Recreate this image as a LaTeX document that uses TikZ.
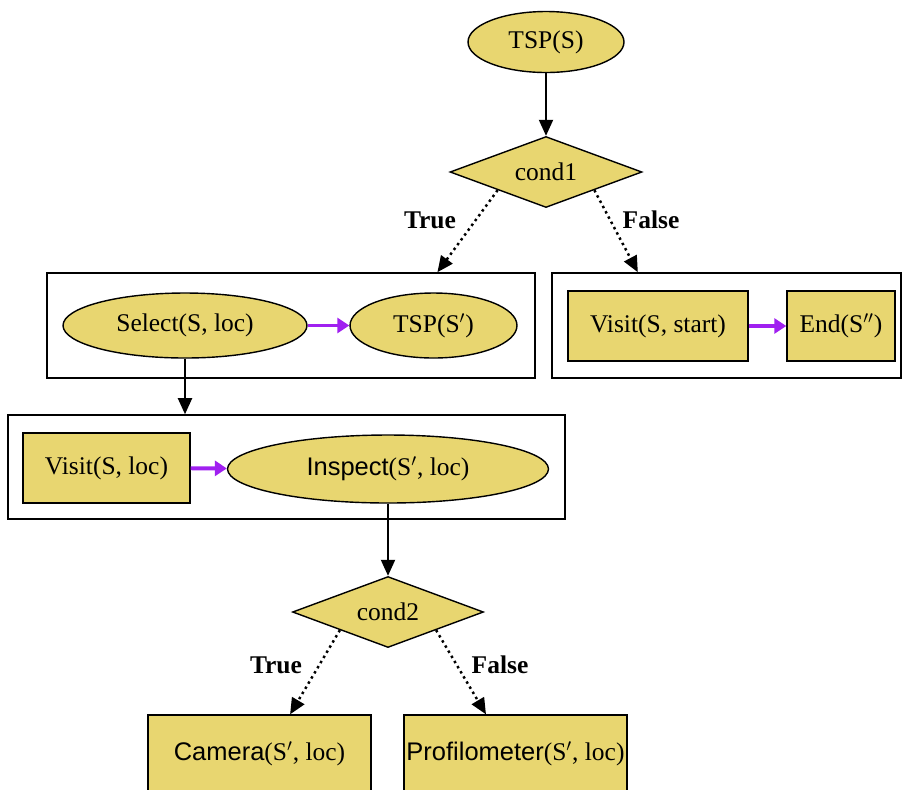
\documentclass[tikz,border=0pt]{standalone}
\usepackage{fontspec}
\setmainfont{Liberation Serif}
\setsansfont{Liberation Sans}
\usetikzlibrary{shapes.geometric,arrows.meta}
\definecolor{gold}{RGB}{232,214,112}
\definecolor{purp}{RGB}{160,32,240}
\tikzset{
  every node/.style={font=\fontsize{14.5}{17}\selectfont},
  oval/.style={ellipse,draw,fill=gold,inner sep=0pt,line width=0.8pt},
  blk/.style={rectangle,draw,fill=gold,inner sep=0pt,line width=0.8pt},
  cond/.style={diamond,draw,fill=gold,inner sep=0pt,aspect=2.7,line width=0.8pt},
  group/.style={rectangle,draw,line width=0.9pt},
  flow/.style={line width=1.1pt,-{Triangle[length=3.2mm,width=2.8mm]}},
  branch/.style={line width=1.4pt,dotted,-{Triangle[length=3.2mm,width=2.8mm]}},
  seq/.style={purp,line width=2.2pt,-{Triangle[length=2.4mm,width=3mm]}},
  lbl/.style={font=\fontsize{14.5}{17}\selectfont\bfseries}
}
\begin{document}
\begin{tikzpicture}[x=0.02cm,y=-0.02cm]
\useasboundingbox (0,0) rectangle (902,789);
% top
\node[oval,minimum width=3.12cm,minimum height=1.22cm] (tsp) at (546,42) {TSP(S)};
\node[cond,minimum width=3.84cm,minimum height=1.42cm] (cond1) at (546,172) {cond1};
\draw[flow] (tsp) -- (cond1);
% left group
\node[group,minimum width=9.76cm,minimum height=2.1cm] (box1) at (291,325.5) {};
\node[oval,minimum width=4.88cm,minimum height=1.3cm] (select) at (185,325.5) {Select(S, loc)};
\node[oval,minimum width=3.34cm,minimum height=1.3cm] (tsp2) at (433.5,325.5) {TSP(S$'$)};
\draw[seq] (select) -- (tsp2);
% right group
\node[group,minimum width=6.98cm,minimum height=2.1cm] (box2) at (726.5,325.5) {};
\node[blk,minimum width=3.6cm,minimum height=1.4cm] (visit1) at (658,326) {Visit(S, start)};
\node[blk,minimum width=2.16cm,minimum height=1.4cm] (end) at (841,326) {End(S$''$)};
\draw[seq] (visit1) -- (end);
% branches of cond1
\draw[branch] (cond1.south west) -- (box1.20);
\draw[branch] (cond1.south east) -- (box2.149);
\node[lbl] (t1) at (430,220) {True};
\node[lbl] (f1) at (651,220) {False};
% middle group
\node[group,minimum width=11.14cm,minimum height=2.08cm] (box3) at (286.5,467) {};
\node[blk,minimum width=3.34cm,minimum height=1.4cm] (visit2) at (106.5,468) {Visit(S, loc)};
\node[oval,minimum width=6.42cm,minimum height=1.36cm] (inspect) at (388,469) {\textsf{Inspect}(S$'$, loc)};
\draw[seq] (visit2) -- (inspect);
\draw[flow] (select.south) -- (select.south |- box3.north);
% bottom
\node[cond,minimum width=3.82cm,minimum height=1.42cm] (cond2) at (388,612) {cond2};
\draw[flow] (inspect.south) -- (cond2.north);
\node[blk,minimum width=4.46cm,minimum height=1.54cm] (camera) at (259.5,753.5) {\textsf{Camera}(S$'$, loc)};
\node[blk,minimum width=4.46cm,minimum height=1.54cm] (profil) at (515.5,753.5) {\textsf{Profilometer}(S$'$, loc)};
\draw[branch] (cond2.south west) -- (camera.52);
\draw[branch] (cond2.south east) -- (profil.127);
\node[lbl] (t2) at (276,665) {True};
\node[lbl] (f2) at (500,665) {False};
\end{tikzpicture}
\end{document}
